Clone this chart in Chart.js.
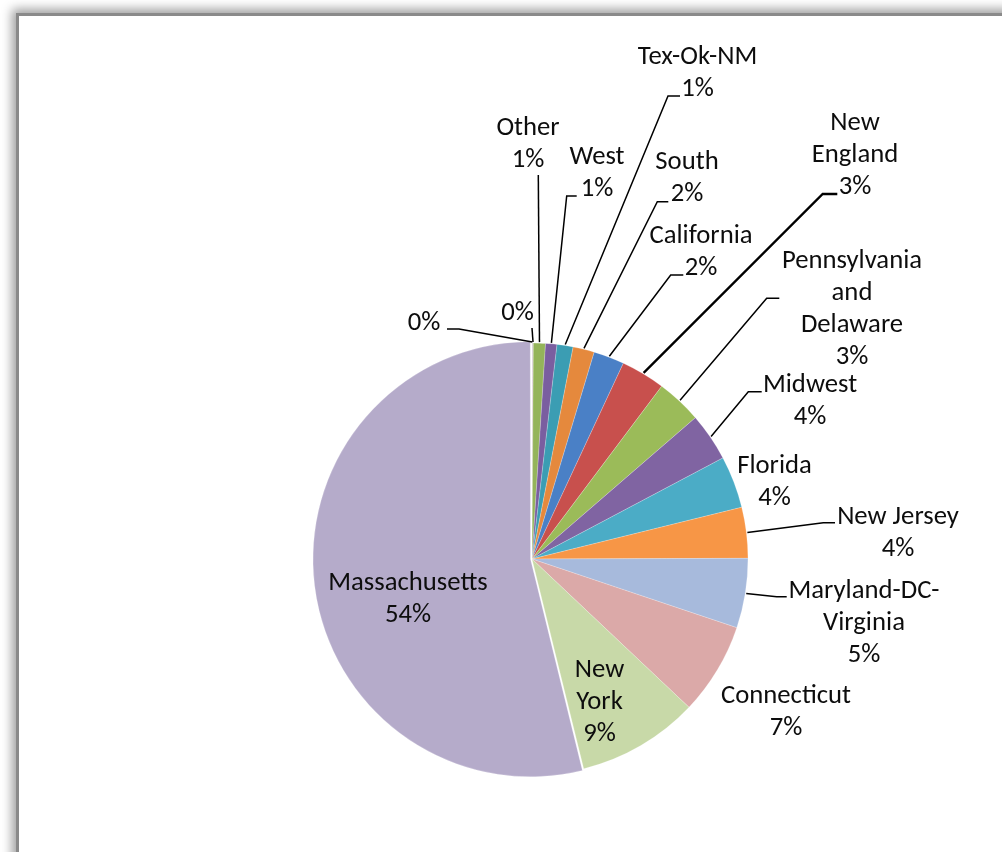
<!DOCTYPE html>
<html>
<head>
<meta charset="utf-8">
<script src="https://cdn.jsdelivr.net/npm/chart.js@4.4.1/dist/chart.umd.min.js"></script>
<style>
  html, body { margin: 0; padding: 0; background: #fff; overflow: hidden; }
  #frame {
    position: absolute; left: 19px; top: 16px; width: 1100px; height: 1000px;
    background: #fff;
    box-shadow: -3px -3px 0 0 #8a8a8a, -4px -4px 10px 3px rgba(0,0,0,0.38);
  }
  #chart { position: absolute; left: 0; top: 0; }
</style>
</head>
<body>
<div id="frame"></div>
<canvas id="chart" width="1002" height="852"></canvas>
<script>
// Share of members by region, in percent, clockwise from 12 o'clock
const categories = ['', '', 'Other', 'West', 'Tex-Ok-NM', 'South', 'California', 'New England',
  'Pennsylvania and Delaware', 'Midwest', 'Florida', 'New Jersey', 'Maryland-DC-Virginia',
  'Connecticut', 'New York', 'Massachusetts'];
const shares = [0.05, 0.05, 0.9, 0.85, 1.2, 1.6, 2.3, 3.3, 3.4, 3.6, 3.9, 3.8, 5.2, 6.9, 9.1, 53.85];

const sliceColors = ['#a9b4c8', '#c9a9a8', '#94b45a', '#7a5ea0', '#3b9db3', '#e5893d', '#4a80c6',
  '#c8504d', '#9bbb59', '#8064a2', '#4bacc6', '#f79646', '#a7badc', '#dba9a8', '#c8d9a8', '#b5abca'];
const sliceOffsets = [0, 0, 0, 0, 0, 0, 0, 0, 0, 0, 0, 0, 0, 0, 0, 6];

// Label placement relative to the pie centre: text centre x, first baseline y,
// wrap width, and optional leader (anchor point, horizontal elbow length, stroke width)
const labelLayout = [
  { dx: -108, dy: -229, wrap: 200, lead: { ax: -85, ay: -230, elbow: 12 } },
  { dx: -14.5, dy: -239, wrap: 200, lead: { ax: 0, ay: -231, elbow: 0 } },
  { dx: -4, dy: -424, wrap: 90, lead: { ax: 6.3, ay: -384, elbow: 0 } },
  { dx: 65, dy: -395, wrap: 90, lead: { ax: 44.7, ay: -363, elbow: -10 } },
  { dx: 165.5, dy: -495, wrap: 200, lead: { ax: 148, ay: -463, elbow: -12 } },
  { dx: 155, dy: -390, wrap: 90, lead: { ax: 136.3, ay: -357.3, elbow: -11 } },
  { dx: 169, dy: -316, wrap: 150, lead: { ax: 151.3, ay: -284, elbow: -12.6 } },
  { dx: 323, dy: -429, wrap: 100, lead: { ax: 305.3, ay: -365, elbow: -14.6, width: 2.3 } },
  { dx: 320, dy: -291, wrap: 143, lead: { ax: 247.3, ay: -260.7, elbow: -12.6 } },
  { dx: 278, dy: -167.3, wrap: 150, lead: { ax: 229.7, ay: -167.3, elbow: -13.4 } },
  { dx: 242.5, dy: -86, wrap: 150, lead: null },
  { dx: 366, dy: -35, wrap: 200, lead: { ax: 303, ay: -36.3, elbow: -11.7 } },
  { dx: 332, dy: 39, wrap: 160, lead: { ax: 254.7, ay: 37.7, elbow: -10 } },
  { dx: 254, dy: 144.3, wrap: 200, lead: null },
  { dx: 67.5, dy: 118, wrap: 60, lead: null },
  { dx: -124, dy: 31, wrap: 200, lead: null }
];

const FONT_SIZE = 26.7;
const FONT_FAMILY = 'Carlito, Lato, sans-serif';
const LINE_HEIGHT = 32;

function wrapText(ctx, text, maxWidth) {
  if (!text) return [];
  // break after spaces and hyphens
  const tokens = text.match(/[^\s-]+-?|\s+/g).filter(t => t.trim().length);
  const lines = [];
  let cur = '';
  tokens.forEach(tok => {
    const sep = cur && !cur.endsWith('-') ? ' ' : '';
    const trial = cur + sep + tok;
    if (cur && ctx.measureText(trial).width > maxWidth) {
      lines.push(cur);
      cur = tok;
    } else {
      cur = trial;
    }
  });
  if (cur) lines.push(cur);
  return lines;
}

const sliceLabels = {
  id: 'sliceLabels',
  afterDatasetsDraw(chart) {
    const ctx = chart.ctx;
    const meta = chart.getDatasetMeta(0);
    const values = chart.data.datasets[0].data;
    const total = values.reduce((a, b) => a + b, 0);
    ctx.save();
    ctx.font = FONT_SIZE + 'px ' + FONT_FAMILY;
    ctx.fillStyle = '#0d0d0d';
    ctx.strokeStyle = '#000';
    ctx.textAlign = 'center';
    ctx.textBaseline = 'alphabetic';
    meta.data.forEach((arc, i) => {
      const p = arc.getProps(['x', 'y', 'startAngle', 'endAngle', 'outerRadius'], true);
      const lay = labelLayout[i];
      const cx = p.x, cy = p.y;
      const lines = wrapText(ctx, chart.data.labels[i], lay.wrap);
      lines.push(Math.round(values[i] / total * 100) + '%');
      lines.forEach((ln, k) => {
        ctx.fillText(ln, cx + lay.dx, cy + lay.dy + k * LINE_HEIGHT);
      });
      if (lay.lead) {
        const mid = (p.startAngle + p.endAngle) / 2;
        const r = p.outerRadius + 1;
        const ex = cx + Math.cos(mid) * r;
        const ey = cy + Math.sin(mid) * r;
        const ax = cx + lay.lead.ax, ay = cy + lay.lead.ay;
        ctx.lineWidth = lay.lead.width || 1.5;
        ctx.beginPath();
        ctx.moveTo(ax, ay);
        if (lay.lead.elbow) ctx.lineTo(ax + lay.lead.elbow, ay);
        ctx.lineTo(ex, ey);
        ctx.stroke();
      }
    });
    ctx.restore();
  }
};

new Chart(document.getElementById('chart'), {
  type: 'pie',
  data: {
    labels: categories,
    datasets: [{
      data: shares,
      backgroundColor: sliceColors,
      borderWidth: 0.6,
      borderColor: 'rgba(255,255,255,0.35)',
      offset: sliceOffsets
    }]
  },
  options: {
    responsive: false,
    animation: false,
    radius: 216,
    layout: { padding: { left: 282, right: 220, top: 300, bottom: 34 } },
    plugins: { legend: { display: false }, tooltip: { enabled: false } }
  },
  plugins: [sliceLabels]
});
</script>
</body>
</html>
